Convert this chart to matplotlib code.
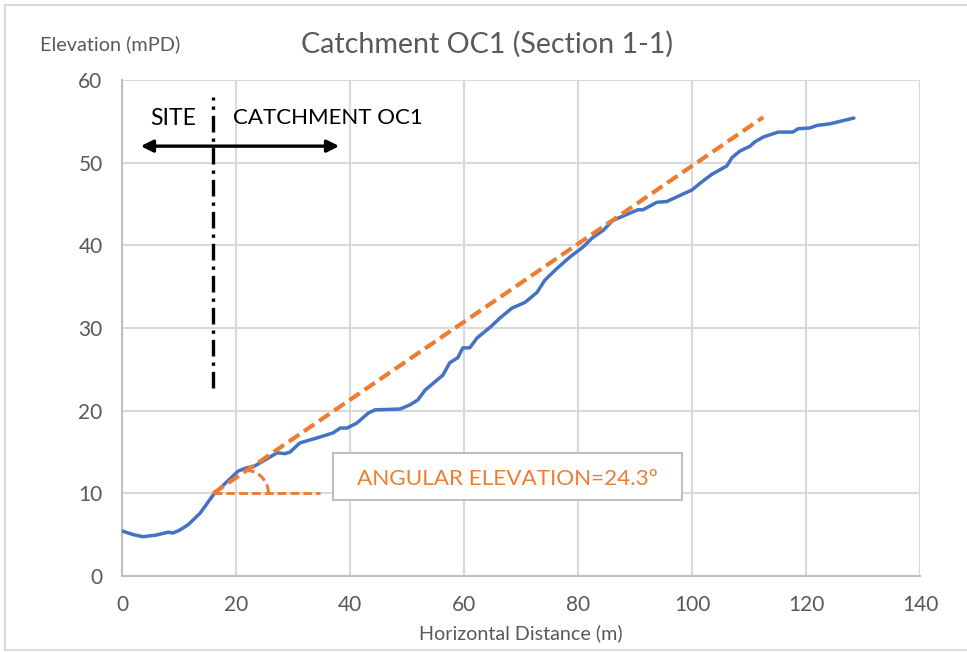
import numpy as np
import matplotlib
matplotlib.use('Agg')
import matplotlib.pyplot as plt
from matplotlib.patches import Arc, Rectangle, FancyArrowPatch

# ground profile (horizontal distance m, elevation mPD)
dist = [0, 2, 3.7, 6, 8.1, 8.9, 10, 11.6, 13.7, 16, 18.4, 20.4, 21.9, 23, 25,
        27.2, 28.6, 29.5, 31.2, 34.2, 37, 38.3, 39.5, 41.2, 43.2, 44.4, 48.8,
        50.5, 51.9, 53.2, 56.3, 57.5, 58.9, 59.8, 61, 62.3, 64.6, 66.3, 68.4,
        70.7, 72.8, 74.2, 76.3, 78.6, 80.9, 82.5, 84.4, 86.1, 87.4, 90.5, 91.4,
        93.8, 95.6, 98.4, 100, 101.4, 103.5, 106.1, 107, 108.4, 110.2, 111,
        112.5, 115.1, 117.7, 118.6, 120.7, 121.9, 124.2, 128.4]
elev = [5.45, 5.0, 4.75, 4.95, 5.3, 5.2, 5.5, 6.2, 7.6, 9.8, 11.4, 12.7, 13.1,
        13.2, 14.0, 14.9, 14.8, 15.0, 16.1, 16.7, 17.3, 17.9, 17.9, 18.5, 19.7,
        20.1, 20.2, 20.7, 21.3, 22.5, 24.3, 25.8, 26.4, 27.6, 27.6, 28.8, 30.1,
        31.2, 32.4, 33.1, 34.3, 35.8, 37.2, 38.6, 39.8, 40.9, 41.8, 43.0, 43.4,
        44.3, 44.3, 45.2, 45.3, 46.2, 46.7, 47.5, 48.6, 49.6, 50.6, 51.4, 52.0,
        52.5, 53.1, 53.7, 53.7, 54.1, 54.2, 54.5, 54.7, 55.4]

# angular elevation line and its horizontal reference
slope_x = [16, 112.5]
slope_y = [10, 55.5]
horiz_x = [16, 34.7]
horiz_y = [10, 10]

# site boundary
boundary_x = 16
boundary_y = [22.7, 57.9]
arrow_x = [2.8, 38.6]
arrow_y = 52.0

x_ticks = [0, 20, 40, 60, 80, 100, 120, 140]
y_ticks = [0, 10, 20, 30, 40, 50, 60]

blue = '#4472C4'
orange = '#ED7D31'
grey_txt = '#595959'
grid_c = '#D9D9D9'

plt.rcParams['font.family'] = ['Lato', 'DejaVu Sans']

fig = plt.figure(figsize=(9.67, 6.52), dpi=100)
fig.patches.append(Rectangle((5 / 967, 2 / 652), 1.0, 645 / 652, transform=fig.transFigure,
                             facecolor='white', edgecolor='#D9D9D9', lw=1.5, zorder=-5))
ax = fig.add_axes([122 / 967, 1 - 576 / 652, 798 / 967, 496 / 652])

ax.set_xlim(0, 140)
ax.set_ylim(0, 60)
ax.set_xticks(x_ticks)
ax.set_yticks(y_ticks)
ax.grid(True, color=grid_c, lw=1.5)
ax.set_axisbelow(True)
for side in ['top', 'right']:
    ax.spines[side].set_visible(False)
for side in ['left', 'bottom']:
    ax.spines[side].set_color('#BFBFBF')
    ax.spines[side].set_linewidth(1.5)
ax.tick_params(length=0, labelsize=15, labelcolor=grey_txt)
ax.tick_params(axis='x', pad=14)
ax.tick_params(axis='y', pad=14)

ax.plot(dist, elev, color=blue, lw=2.5, solid_capstyle='round', zorder=3)
ax.plot(slope_x, slope_y, color=orange, lw=3.0, dashes=(3.0, 1.4), zorder=4)
ax.plot(horiz_x, horiz_y, color=orange, lw=2.1, dashes=(3.0, 1.4), zorder=4)
ax.add_patch(Arc((21.6, 10), 2 * 4.1, 2 * 2.8, theta1=0, theta2=95,
                 color=orange, lw=2.2, ls=(0, (3.0, 1.4)), zorder=4))

ax.plot([boundary_x, boundary_x], boundary_y, color='black', lw=2.4,
        dashes=(5, 1.8, 1, 1.8), zorder=5)
ax.add_patch(FancyArrowPatch((arrow_x[0], arrow_y), (arrow_x[1], arrow_y),
                             arrowstyle='<|-|>', mutation_scale=18, color='black',
                             lw=2.4, zorder=5))
ax.text(4.9, 55.4, 'SITE', fontsize=16.5, color='black', va='center', ha='left')
ax.text(19.5, 55.4, 'CATCHMENT OC1', fontsize=16, color='black', va='center', ha='left')

ax.add_patch(Rectangle((37.0, 9.2), 61.2, 5.7, facecolor='white', edgecolor='#BFBFBF',
                       lw=1.5, zorder=6))
ax.text(67.6, 11.7, 'ANGULAR ELEVATION=24.3º', fontsize=16.2, color=orange,
        ha='center', va='center', zorder=7)

fig.text(487 / 967, 1 - 44 / 652, 'Catchment OC1 (Section 1-1)', fontsize=20.6,
         color=grey_txt, ha='center', va='center')
fig.text(40 / 967, 1 - 44 / 652, 'Elevation (mPD)', fontsize=14.3,
         color=grey_txt, ha='left', va='center')
fig.text(521 / 967, 1 - 633 / 652, 'Horizontal Distance (m)', fontsize=14.2,
         color=grey_txt, ha='center', va='center')

fig.savefig('out.png', dpi=100)
